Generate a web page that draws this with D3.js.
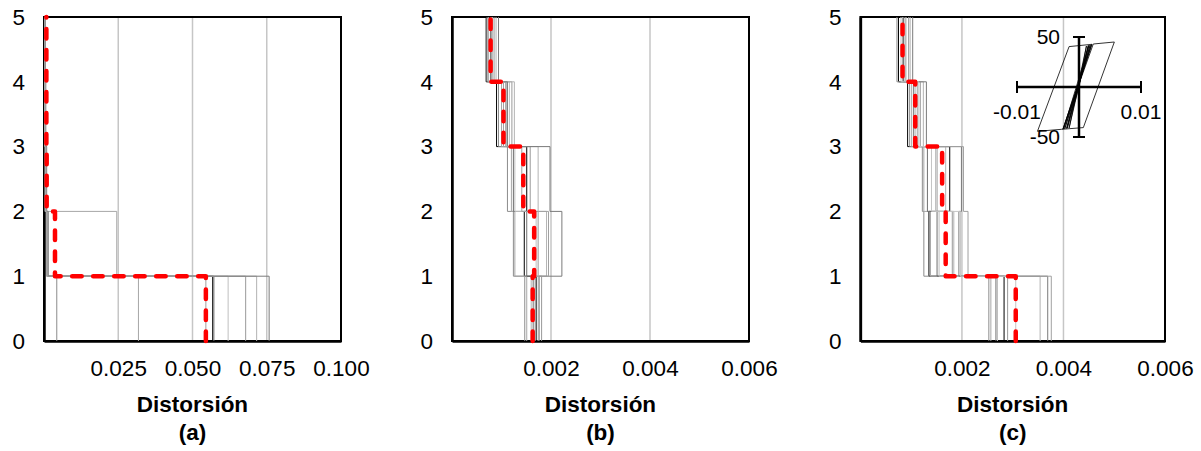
<!DOCTYPE html>
<html>
<head>
<meta charset="utf-8">
<script src="https://cdnjs.cloudflare.com/ajax/libs/d3/7.8.5/d3.min.js"></script>
<style>
  html, body { margin: 0; padding: 0; background: #fff; }
  svg { display: block; font-family: "Liberation Sans", Arial, sans-serif; }
</style>
</head>
<body>
<svg id="chart" width="1201" height="451"></svg>
<script>
// Floor levels on the vertical axis
const levelTicks = [0, 1, 2, 3, 4, 5];

// (a) inter-story drift of each record, stories 1..5
const recordsA = [
  [0.0568, 0.0011, 0.0006, 0.0004, 0.0003],
  [0.0043, 0.0009, 0.0005, 0.0003, 0.0002],
  [0.0318, 0.0245, 0.0003, 0.0002, 0.0002],
  [0.0572, 0.0012, 0.0008, 0.0005, 0.0003],
  [0.0620, 0.0010, 0.0007, 0.0004, 0.0003],
  [0.0679, 0.0013, 0.0008, 0.0005, 0.0004],
  [0.0716, 0.0011, 0.0006, 0.0004, 0.0003],
  [0.0758, 0.0014, 0.0009, 0.0006, 0.0004],
  [0.0545, 0.0010, 0.0007, 0.0005, 0.0003]
];
const meanA = [0.0545, 0.0037, 0.0009, 0.0008, 0.0008];
const ticksA = [0.025, 0.05, 0.075, 0.1];

// (b) inter-story drift of each record, stories 1..5
const recordsB = [
  [0.00170, 0.00146, 0.00151, 0.00090, 0.00069],
  [0.00147, 0.00124, 0.00112, 0.00094, 0.00071],
  [0.00151, 0.00127, 0.00120, 0.00100, 0.00074],
  [0.00164, 0.00151, 0.00124, 0.00109, 0.00078],
  [0.00174, 0.00170, 0.00127, 0.00116, 0.00082],
  [0.00181, 0.00174, 0.00158, 0.00121, 0.00085],
  [0.00160, 0.00191, 0.00174, 0.00126, 0.00089],
  [0.00176, 0.00222, 0.00198, 0.00112, 0.00094],
  [0.00168, 0.00195, 0.00141, 0.00104, 0.00080]
];
const meanB = [0.00163, 0.00166, 0.00144, 0.00104, 0.00078];
const ticksB = [0.002, 0.004, 0.006];

// (c) inter-story drift of each record, stories 1..5
const recordsC = [
  [0.00283, 0.00135, 0.00176, 0.00093, 0.00075],
  [0.00253, 0.00125, 0.00122, 0.00097, 0.00072],
  [0.00257, 0.00138, 0.00125, 0.00101, 0.00083],
  [0.00267, 0.00151, 0.00132, 0.00105, 0.00085],
  [0.00270, 0.00155, 0.00148, 0.00108, 0.00090],
  [0.00290, 0.00181, 0.00151, 0.00118, 0.00095],
  [0.00354, 0.00184, 0.00168, 0.00124, 0.00098],
  [0.00369, 0.00194, 0.00199, 0.00130, 0.00103],
  [0.00376, 0.00212, 0.00203, 0.00112, 0.00088],
  [0.00306, 0.00197, 0.00140, 0.00115, 0.00080]
];
const meanC = [0.00306, 0.00168, 0.00161, 0.00108, 0.00083];
const ticksC = [0.002, 0.004, 0.006];

// Inset: hysteresis loop, drift vs. shear
const hystDrift = [0, 0.0012, -0.0016, 0.0015, -0.0020, 0.0018, -0.0023, 0.0020, -0.0026, 0.0023, 0.0057, 0.0007, -0.0028, -0.0067, -0.0016, 0.0021, -0.0025, 0.0016, -0.0019, 0];
const hystForce = [0, 41.0, -41.0, 41.5, -41.4, 42.0, -41.8, 42.4, -42.2, 43.0, 45.0, -40.6, -42.3, -44.3, 40.4, 42.7, -42.0, 41.6, -41.2, 0];
const insetTicksX = [-0.01, 0.01];
const insetTicksY = [-50, 50];

// Stroke colours cycled over the individual records
const recordColors = ["#000000", "#8c8c8c", "#a6a6a6", "#6e6e6e", "#bfbfbf", "#999999", "#b3b3b3", "#7a7a7a", "#a0a0a0", "#c4c4c4"];

const svg = d3.select("#chart");
const yTop = 17, yBottom = 341;
const y = d3.scaleLinear().domain([0, 5]).range([yBottom, yTop]);

// plain hyphen for negative numbers
const hyphen = f => v => f(v).replace("\u2212", "-");

// Step profile: vertical run at each story's drift, horizontal jump at each floor
function stepPoints(v) {
  const pts = [[v[0], 0]];
  for (let i = 0; i < v.length; i++) {
    pts.push([v[i], i + 1]);
    if (i < v.length - 1) pts.push([v[i + 1], i + 1]);
  }
  return pts;
}

const panels = [
  { left: 44, right: 341, max: 0.1, ticks: ticksA, records: recordsA, mean: meanA, tag: "(a)" },
  { left: 452, right: 749, max: 0.006, ticks: ticksB, records: recordsB, mean: meanB, tag: "(b)" },
  { left: 860.4, right: 1165, max: 0.006, ticks: ticksC, records: recordsC, mean: meanC, tag: "(c)" }
];

panels.forEach(p => {
  const x = d3.scaleLinear().domain([0, p.max]).range([p.left, p.right]);
  const g = svg.append("g");
  const cx = (p.left + p.right) / 2;

  // vertical gridlines
  g.append("g").selectAll("line")
    .data(p.ticks.filter(t => t < p.max - 1e-9))
    .join("line")
    .attr("x1", d => x(d)).attr("x2", d => x(d))
    .attr("y1", yTop).attr("y2", yBottom)
    .attr("stroke", "#c6c6c6").attr("stroke-width", 1.5);

  // plot frame
  g.append("rect")
    .attr("x", p.left).attr("y", yTop)
    .attr("width", p.right - p.left).attr("height", yBottom - yTop)
    .attr("fill", "none").attr("stroke", "#000").attr("stroke-width", 2);

  // left and bottom axes
  const yAxis = d3.axisLeft(y).tickValues(levelTicks).tickSize(0).tickPadding(19).tickFormat(d3.format("d"));
  const gy = g.append("g").attr("transform", `translate(${p.left},0)`).call(yAxis);
  gy.attr("font-size", 22.5).attr("font-family", "Liberation Sans, Arial, sans-serif");
  gy.select(".domain").attr("stroke", "#000").attr("stroke-width", 2.5);
  gy.selectAll("text").attr("fill", "#000");

  const xAxis = d3.axisBottom(x).tickValues(p.ticks).tickSize(0).tickPadding(19).tickFormat(d3.format(".3f"));
  const gx = g.append("g").attr("transform", `translate(0,${yBottom})`).call(xAxis);
  gx.attr("font-size", 22.5).attr("font-family", "Liberation Sans, Arial, sans-serif");
  gx.select(".domain").attr("stroke", "#000").attr("stroke-width", 2.5);
  gx.selectAll("text").attr("fill", "#000");

  // individual record profiles
  const line = d3.line().x(d => x(d[0])).y(d => y(d[1]));
  g.append("g").selectAll("path")
    .data(p.records)
    .join("path")
    .attr("d", d => line(stepPoints(d)))
    .attr("fill", "none")
    .attr("stroke", (d, i) => recordColors[i % recordColors.length])
    .attr("stroke-width", 1);

  // mean profile
  g.append("path")
    .attr("d", line(stepPoints(p.mean)))
    .attr("fill", "none")
    .attr("stroke", "#ff0000")
    .attr("stroke-width", 4.5)
    .attr("stroke-linecap", "round")
    .attr("stroke-linejoin", "round")
    .attr("stroke-dasharray", "9.5,11.5");

  // axis title and panel tag
  g.append("text").attr("x", cx).attr("y", 412)
    .attr("text-anchor", "middle").attr("font-weight", "bold").attr("font-size", 22.5)
    .text("Distorsión");
  g.append("text").attr("x", cx).attr("y", 440)
    .attr("text-anchor", "middle").attr("font-weight", "bold").attr("font-size", 22.5)
    .text(p.tag);
});

// Inset hysteresis plot inside panel (c)
const ix = d3.scaleLinear().domain([-0.01, 0.01]).range([1017, 1141]);
const iy = d3.scaleLinear().domain([-50, 50]).range([137, 37]);
const inset = svg.append("g");

const hyst = hystDrift.map((d, i) => [d, hystForce[i]]);
inset.append("path")
  .attr("d", d3.line().x(d => ix(d[0])).y(d => iy(d[1]))(hyst))
  .attr("fill", "none").attr("stroke", "#000").attr("stroke-width", 0.8)
  .attr("stroke-linejoin", "miter");

// inset axes with end caps
inset.append("line")
  .attr("x1", ix(-0.01)).attr("x2", ix(0.01)).attr("y1", iy(0)).attr("y2", iy(0))
  .attr("stroke", "#000").attr("stroke-width", 2.5);
inset.selectAll(".capx").data(insetTicksX).join("line")
  .attr("x1", d => ix(d)).attr("x2", d => ix(d))
  .attr("y1", iy(0) - 6).attr("y2", iy(0) + 6)
  .attr("stroke", "#000").attr("stroke-width", 2);
inset.append("line")
  .attr("x1", ix(0)).attr("x2", ix(0)).attr("y1", iy(-50)).attr("y2", iy(50))
  .attr("stroke", "#000").attr("stroke-width", 2.5);
inset.selectAll(".capy").data(insetTicksY).join("line")
  .attr("x1", ix(0) - 6).attr("x2", ix(0) + 6)
  .attr("y1", d => iy(d)).attr("y2", d => iy(d))
  .attr("stroke", "#000").attr("stroke-width", 2);

inset.selectAll(".ylab").data(insetTicksY).join("text")
  .attr("x", ix(0) - 19).attr("y", d => iy(d) + 7)
  .attr("text-anchor", "end").attr("font-size", 21)
  .text(d => hyphen(d3.format("d"))(d));
inset.selectAll(".xlab").data(insetTicksX).join("text")
  .attr("x", d => ix(d)).attr("y", iy(0) + 32)
  .attr("text-anchor", "middle").attr("font-size", 21)
  .text(d => hyphen(d3.format(".2f"))(d));
</script>
</body>
</html>
